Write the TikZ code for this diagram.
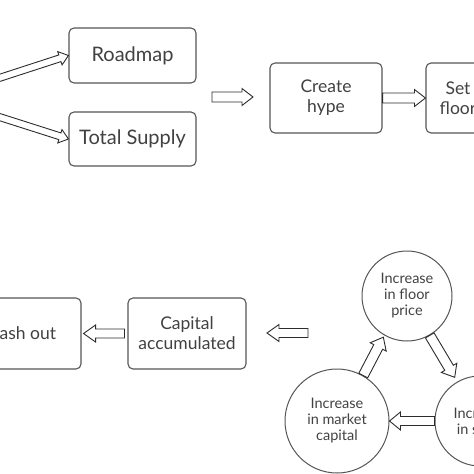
\documentclass[tikz,border=0pt]{standalone}
\usepackage{fontspec}
\setmainfont{Lato}
\usetikzlibrary{calc}
\definecolor{boxcol}{HTML}{555555}
\definecolor{txtcol}{HTML}{414141}
\definecolor{arrcol}{HTML}{2C2C2C}
\tikzset{
  box/.style={draw=boxcol, line width=1.1pt, rounded corners=5pt, text=txtcol,
    align=center, inner sep=0pt},
  bigtxt/.style={font=\fontsize{20}{23}\selectfont},
  midtxt/.style={font=\fontsize{17.5}{20}\selectfont},
  circ/.style={circle, draw=boxcol, line width=1pt, text=txtcol, align=center,
    inner sep=0pt, font=\fontsize{14.5}{16}\selectfont},
  arrowline/.style={draw=arrcol, fill=white, line width=0.9pt, line join=miter},
}
% from, to, start gap, end gap, half body, half head, head length
\newcommand\blockarrow[7]{%
  \coordinate (baA) at ($(#1)!#3!(#2)$);
  \coordinate (baB) at ($(#2)!#4!(#1)$);
  \coordinate (baH) at ($(baB)!#7!(baA)$);
  \draw[arrowline] ($(baA)!#5!90:(baB)$) -- ($(baH)!#5!90:(baB)$)
    -- ($(baH)!#6!90:(baB)$) -- (baB) -- ($(baH)!#6!-90:(baB)$)
    -- ($(baH)!#5!-90:(baB)$) -- ($(baA)!#5!-90:(baB)$) -- cycle;}
\begin{document}
\begin{tikzpicture}[x=1pt, y=-1pt]
\useasboundingbox (0,0) rectangle (474,474);
\clip (0,0) rectangle (474,474);
% top row
\node[box, bigtxt, minimum width=127pt, minimum height=55pt] (road) at (132.5,55.5) {Roadmap};
\node[box, bigtxt, minimum width=127pt, minimum height=54pt] (supply) at (132.5,139) {Total Supply};
\node[box, midtxt, minimum width=112pt, minimum height=70pt] (hype) at (326,98) {Create\\hype};
\node[box, midtxt, minimum width=64pt, minimum height=70pt] (setf) at (458,98) {Set\\floor};
% bottom row
\node[box, midtxt, minimum width=118pt, minimum height=71pt] (cash) at (22,333.5) {Cash out};
\node[box, midtxt, minimum width=118pt, minimum height=71pt] (capital) at (187,333.5) {Capital\\accumulated};
% cycle
\node[circ, minimum size=90pt] (cfloor) at (407,296) {Increase\\in floor\\price};
\node[circ, minimum size=104pt] (cmarket) at (337,421) {Increase\\in market\\capital};
\node[circ, minimum size=90pt] (cright) at (480,421) {Increase\\in sales};
% free ends
\coordinate (s1) at (-10,81);
\coordinate (s2) at (-10,114);
\coordinate (m1) at (212,97);
\coordinate (m2) at (253,97);
\coordinate (b1) at (308,333);
\coordinate (b2) at (267,333);
% arrows
\blockarrow{s1}{road.west}{0pt}{0pt}{3.5pt}{7pt}{9pt}
\blockarrow{s2}{supply.west}{0pt}{0pt}{3.5pt}{7pt}{9pt}
\blockarrow{m1}{m2}{0pt}{0pt}{5pt}{8.5pt}{11pt}
\blockarrow{hype.east}{setf.west}{0pt}{0pt}{5pt}{8.5pt}{11pt}
\blockarrow{capital.west}{cash.east}{3pt}{2pt}{4.5pt}{8.5pt}{12pt}
\blockarrow{b1}{b2}{0pt}{0pt}{4.5pt}{8.5pt}{12pt}
\blockarrow{cfloor.-60}{cright.120}{0pt}{5pt}{5pt}{9pt}{11pt}
\blockarrow{cright.180}{cmarket.0}{0pt}{0pt}{4.5pt}{9pt}{11pt}
\blockarrow{cmarket.60}{cfloor.-120}{0pt}{2pt}{5pt}{9pt}{11pt}
\end{tikzpicture}
\end{document}
